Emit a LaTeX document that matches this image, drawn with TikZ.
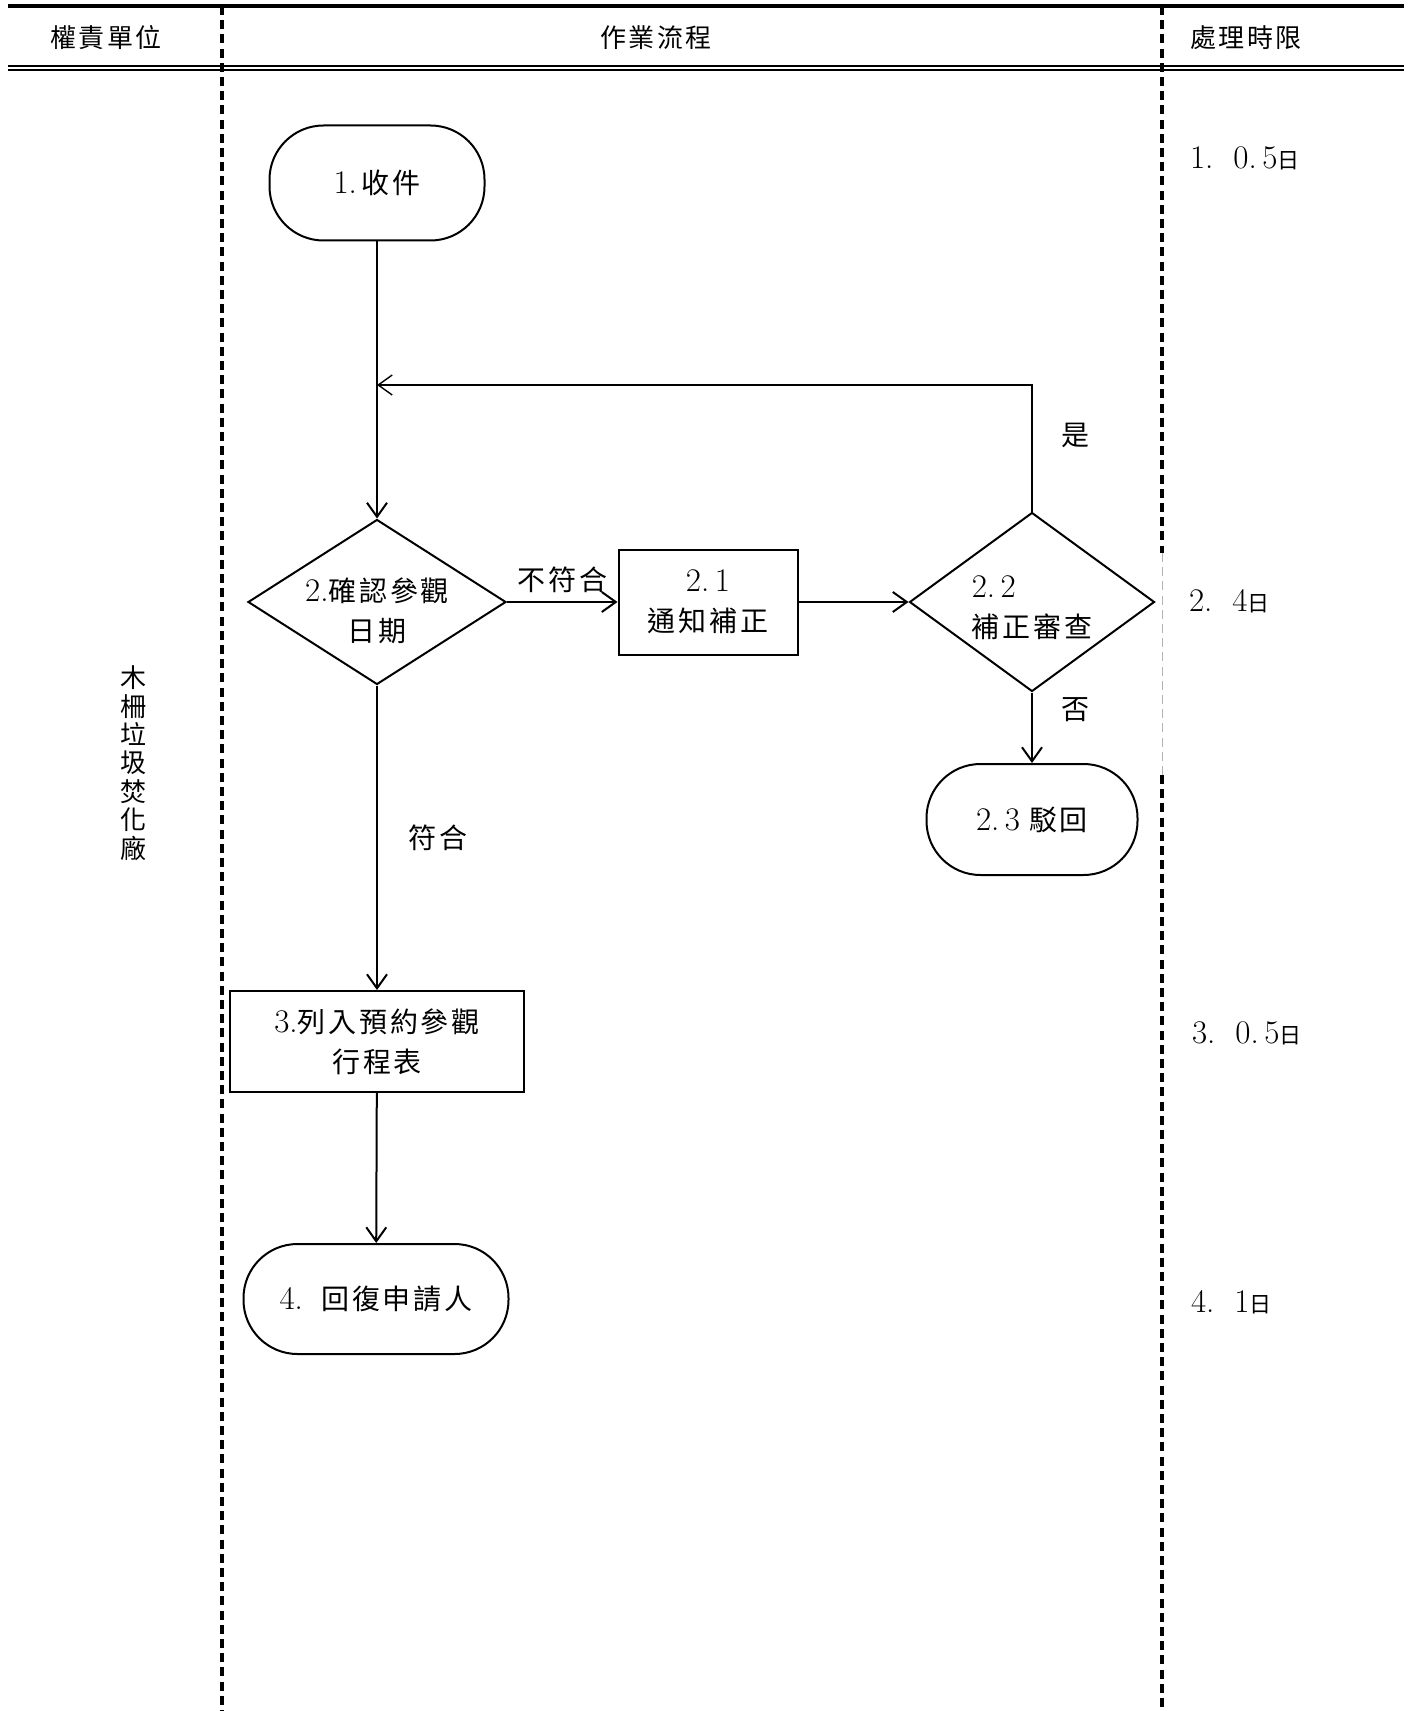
\documentclass[tikz,border=0pt]{standalone}
\usepackage{fontspec}
\newfontfamily\cjk[LetterSpace=10]{Noto Sans CJK TC}
\usetikzlibrary{positioning, shapes.geometric, arrows.meta, calc}
\newcommand\nm[1]{{\fontsize{16.5}{20}\selectfont #1}}

\tikzset{
  flowbox/.style={draw, line width=1pt},
  stadium/.style={flowbox, rectangle, rounded corners=27pt, align=center},
  procbox/.style={flowbox, rectangle, align=center},
  decision/.style={flowbox, diamond, inner sep=0pt},
  flowarrow/.style={line width=1pt, -{Straight Barb[length=7pt,width=10pt]}},
  lanesep/.style={line width=1.6pt, dash pattern=on 4.5pt off 2.6pt},
  timelabel/.style={anchor=west},
  headlabel/.style={font=\cjk\fontsize{13}{15}\selectfont},
  flowlabel/.style={font=\cjk\fontsize{14}{16}\selectfont},
}

\begin{document}
\begin{tikzpicture}[x=0.5pt, y=-0.5pt, font=\fontsize{14}{20}\selectfont]
    \useasboundingbox (0,0) rectangle (1412,1711);

    % table head and lanes
    \draw[line width=1.6pt] (8,6) -- (1404,6);
    \draw[line width=0.9pt] (8,66) -- (1404,66);
    \draw[line width=0.9pt] (8,70) -- (1404,70);
    \draw[lanesep] (222,6) -- (222,1711);
    \draw[lanesep] (1162,6) -- (1162,553);
    \draw[line width=0.5pt, gray!60, dash pattern=on 4.5pt off 2.6pt] (1162,553) -- (1162,775);
    \draw[lanesep] (1162,775) -- (1162,1711);

    \node[headlabel] (hunit) at (106,38) {權責單位};
    \node[headlabel] (hflow) at (656,38) {作業流程};
    \node[headlabel] (htime) at (1246,38) {處理時限};

    \node[align=center, font=\cjk\fontsize{13}{14.2}\selectfont] (unit) at (133,763)
          {木\\柵\\垃\\圾\\焚\\化\\廠};

    % flow
    \node[stadium, minimum width=107.5pt, minimum height=57.5pt] (s1) at (377,183)
          {\nm{1.}\,{\cjk 收件}};
    \node[decision, minimum width=129pt, minimum height=82.5pt,
          label={[align=center, yshift=-4.5pt]center:\nm{2.}{\cjk 確認參觀}\\{\cjk 日期}}] (d2) at (377,602) {};
    \node[procbox, minimum width=89.5pt, minimum height=52.5pt] (b21) at (708,602)
          {\nm{2.\,1}\\{\cjk 通知補正}};
    \node[decision, minimum width=122.5pt, minimum height=89.5pt,
          label={[align=left, yshift=-3pt]center:\nm{2.\,2}\\{\cjk 補正審查}}] (d22) at (1032,602) {};
    \node[stadium, minimum width=105.5pt, minimum height=55.5pt] (s23) at (1032,819.5)
          {\nm{2.\,3}\ {\cjk 駁回}};
    \node[procbox, minimum width=147pt, minimum height=50.5pt] (b3) at (377,1041.5)
          {\nm{3.}{\cjk 列入預約參觀}\\{\cjk 行程表}};
    \node[stadium, minimum width=132.5pt, minimum height=55pt] (s4) at (376,1299)
          {\nm{4.}\ \ {\cjk 回復申請人}};

    \coordinate (fb) at (377,385);
    \draw[flowarrow] (s1) -- (d2);
    \draw[line width=0.7pt, -{Straight Barb[length=7pt,width=10pt]}] (d22.north) |-
          node[pos=0.3, right=11pt, flowlabel] {是} (fb);
    \draw[flowarrow] (d2) -- node[above=1pt, flowlabel] {不符合} (b21);
    \draw[flowarrow] (b21) -- (d22);
    \draw[flowarrow] (d22) -- node[right=11pt, pos=0.25, flowlabel] {否} (s23);
    \draw[flowarrow] (d2) -- node[right=12pt, flowlabel] {符合} (b3);
    \draw[flowarrow] (b3) -- (s4);

    % time limits
    \node[timelabel] (t1) at (1183,158) {\nm{1.\ \ 0.\,5}{\cjk\fontsize{11}{11}\selectfont 日}};
    \node[timelabel] (t2) at (1182,601) {\nm{2.\ \ 4}{\cjk\fontsize{11}{11}\selectfont 日}};
    \node[timelabel] (t3) at (1185,1033) {\nm{3.\ \ 0.\,5}{\cjk\fontsize{11}{11}\selectfont 日}};
    \node[timelabel] (t4) at (1184,1302) {\nm{4.\ \ 1}{\cjk\fontsize{11}{11}\selectfont 日}};
\end{tikzpicture}
\end{document}
